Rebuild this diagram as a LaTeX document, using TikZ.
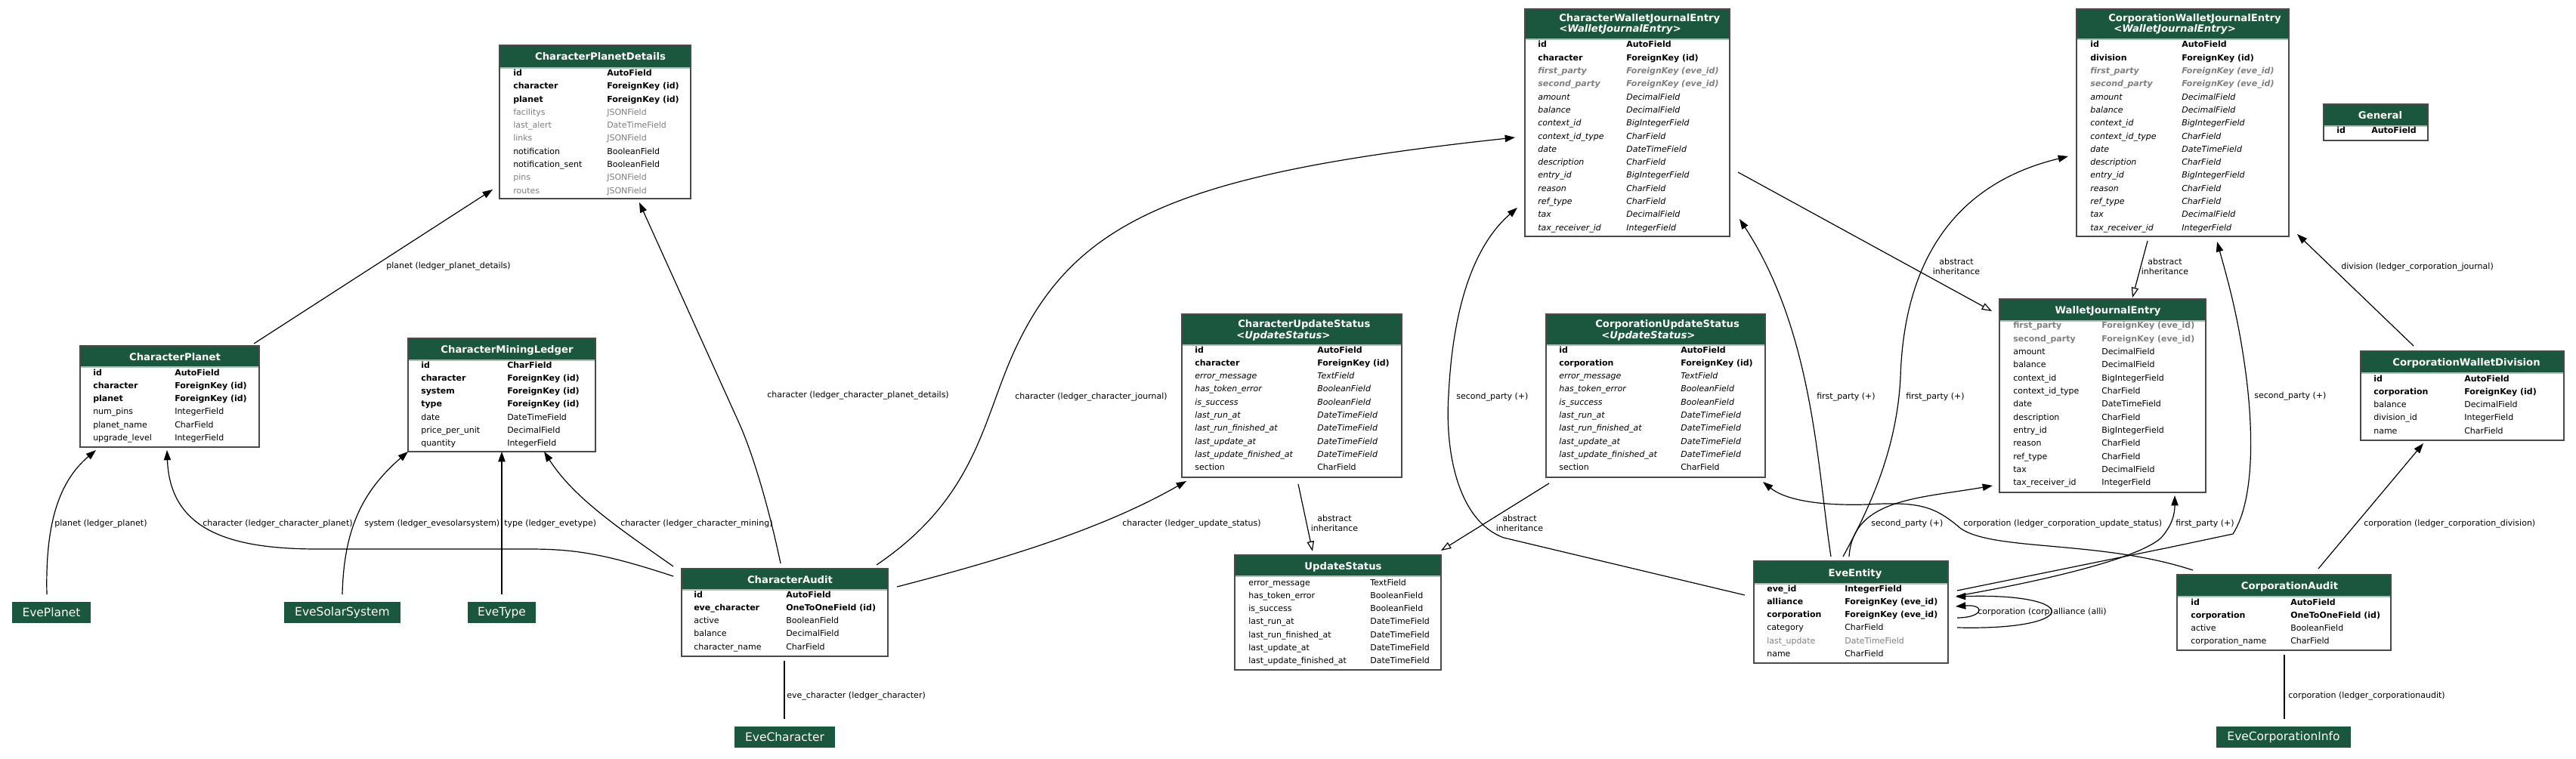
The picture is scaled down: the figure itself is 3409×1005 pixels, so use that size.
\documentclass[tikz,border=0pt]{standalone}
\usepackage{fontspec}
\setmainfont{DejaVu Sans}
\usetikzlibrary{arrows.meta,calc}
\definecolor{hdrgreen}{HTML}{1B563F}
\definecolor{fgray}{gray}{0.5}
\definecolor{hlinecol}{HTML}{A8C3B6}
\definecolor{bordercol}{HTML}{4A4A4A}
\tikzset{
  tblbox/.style={rectangle, fill=white, anchor=north west, inner sep=0pt, outer sep=0pt},
  tblborder/.style={draw=bordercol, line width=1.1pt},
  hdrtxt/.style={text=white, font=\fontsize{9.9}{10.5}\selectfont\bfseries, inner sep=0pt},
  fld/.style={inner sep=0pt, font=\fontsize{8.25}{10}\selectfont},
  fldN/.style={fld},
  fldB/.style={fld, font=\fontsize{8.25}{10}\selectfont\bfseries},
  fldI/.style={fld, font=\fontsize{8.25}{10}\selectfont\itshape},
  fldG/.style={fld, text=fgray},
  fldGB/.style={fldB, text=fgray},
  fldGBI/.style={fld, text=fgray, font=\fontsize{8.25}{10}\selectfont\bfseries\itshape},
  extbox/.style={rectangle, fill=hdrgreen, text=white, anchor=north west, inner sep=0pt, outer sep=0pt, font=\fontsize{11.6}{13}\selectfont},
  conn/.style={line width=0.9pt, draw=black},
  fk/.style={conn, -{Triangle[length=10pt,width=7pt]}},
  inh/.style={conn, -{Triangle[open,length=10pt,width=7pt]}},
  plain/.style={conn},
  elbl/.style={inner sep=0pt, font=\fontsize{8.25}{9.4}\selectfont, anchor=base west},
  ilbl/.style={inner sep=0pt, font=\fontsize{8.25}{9.4}\selectfont, align=center},
}
\newcommand\tbl[6]{%
  \node[tblbox, minimum width={#4*0.75pt}, minimum height={#5*0.75pt}] (#1) at (#2,#3) {};
  \fill[hdrgreen] (#1.north west) rectangle ($(#1.north east)+(0,#6)$);
  \draw[draw=hlinecol, line width=0.8pt] ($(#1.north west)+(1,#6)$) -- ($(#1.north east)+(-1,#6)$);
  \draw[tblborder] (#1.north west) rectangle (#1.south east);
}
\newcommand\fields[5]{%
  \foreach \st/\lf/\ft [count=\i] in {#5} {
    \node[\st, anchor=base west] (#1-l\i) at (#2, {#4+(\i-1)*17.3+4}) {\lf};
    \node[\st, anchor=base west] (#1-r\i) at (#3, {#4+(\i-1)*17.3+4}) {\ft};
  }%
}
\begin{document}
\begin{tikzpicture}[x=0.75pt,y=-0.75pt]
\useasboundingbox (0,0) rectangle (3409,1005);
\fill[white] (0,0) rectangle (3409,1005);

% ---------- tables ----------
\tbl{cpd}{661}{60}{253}{203}{30}
\node[hdrtxt, anchor=base] (cpd-h) at (794.5,80) {CharacterPlanetDetails};
\fields{cpd}{679}{803}{96.5}{fldB/id/AutoField, fldB/character/ForeignKey (id), fldB/planet/ForeignKey (id), fldG/facilitys/JSONField, fldG/last\_alert/DateTimeField, fldG/links/JSONField, fldN/notification/BooleanField, fldN/notification\_sent/BooleanField, fldG/pins/JSONField, fldG/routes/JSONField}

\tbl{cp}{106}{458}{237}{134}{28}
\node[hdrtxt, anchor=base] (cp-h) at (231.5,477) {CharacterPlanet};
\fields{cp}{123}{231}{493}{fldB/id/AutoField, fldB/character/ForeignKey (id), fldB/planet/ForeignKey (id), fldN/num\_pins/IntegerField, fldN/planet\_name/CharField, fldN/upgrade\_level/IntegerField}

\tbl{cml}{540}{448}{248}{150}{29}
\node[hdrtxt, anchor=base] (cml-h) at (671,467.5) {CharacterMiningLedger};
\fields{cml}{557}{671}{483}{fldB/id/CharField, fldB/character/ForeignKey (id), fldB/system/ForeignKey (id), fldB/type/ForeignKey (id), fldN/date/DateTimeField, fldN/price\_per\_unit/DecimalField, fldN/quantity/IntegerField}

\tbl{cwje}{2018}{12}{271}{301}{40}
\node[hdrtxt, anchor=base west] (cwje-h1) at (2063,29) {CharacterWalletJournalEntry};
\node[hdrtxt, anchor=base west] (cwje-h2) at (2063,43) {\itshape <WalletJournalEntry>};
\fields{cwje}{2035}{2152}{59}{fldB/id/AutoField, fldB/character/ForeignKey (id), fldGBI/first\_party/ForeignKey (eve\_id), fldGBI/second\_party/ForeignKey (eve\_id), fldI/amount/DecimalField, fldI/balance/DecimalField, fldI/context\_id/BigIntegerField, fldI/context\_id\_type/CharField, fldI/date/DateTimeField, fldI/description/CharField, fldI/entry\_id/BigIntegerField, fldI/reason/CharField, fldI/ref\_type/CharField, fldI/tax/DecimalField, fldI/tax\_receiver\_id/IntegerField}

\tbl{corpwje}{2748}{12}{281}{301}{40}
\node[hdrtxt, anchor=base west] (corpwje-h1) at (2790,29) {CorporationWalletJournalEntry};
\node[hdrtxt, anchor=base west] (corpwje-h2) at (2797,43) {\itshape <WalletJournalEntry>};
\fields{corpwje}{2766}{2887}{59}{fldB/id/AutoField, fldB/division/ForeignKey (id), fldGBI/first\_party/ForeignKey (eve\_id), fldGBI/second\_party/ForeignKey (eve\_id), fldI/amount/DecimalField, fldI/balance/DecimalField, fldI/context\_id/BigIntegerField, fldI/context\_id\_type/CharField, fldI/date/DateTimeField, fldI/description/CharField, fldI/entry\_id/BigIntegerField, fldI/reason/CharField, fldI/ref\_type/CharField, fldI/tax/DecimalField, fldI/tax\_receiver\_id/IntegerField}

\tbl{cus}{1564}{416}{291}{216}{41}
\node[hdrtxt, anchor=base west] (cus-h1) at (1638,434) {CharacterUpdateStatus};
\node[hdrtxt, anchor=base west] (cus-h2) at (1636,448) {\itshape <UpdateStatus>};
\fields{cus}{1581}{1743}{463}{fldB/id/AutoField, fldB/character/ForeignKey (id), fldI/error\_message/TextField, fldI/has\_token\_error/BooleanField, fldI/is\_success/BooleanField, fldI/last\_run\_at/DateTimeField, fldI/last\_run\_finished\_at/DateTimeField, fldI/last\_update\_at/DateTimeField, fldI/last\_update\_finished\_at/DateTimeField, fldN/section/CharField}

\tbl{corpus}{2046}{416}{290}{216}{41}
\node[hdrtxt, anchor=base west] (corpus-h1) at (2111,434) {CorporationUpdateStatus};
\node[hdrtxt, anchor=base west] (corpus-h2) at (2119,448) {\itshape <UpdateStatus>};
\fields{corpus}{2063}{2224}{463}{fldB/id/AutoField, fldB/corporation/ForeignKey (id), fldI/error\_message/TextField, fldI/has\_token\_error/BooleanField, fldI/is\_success/BooleanField, fldI/last\_run\_at/DateTimeField, fldI/last\_run\_finished\_at/DateTimeField, fldI/last\_update\_at/DateTimeField, fldI/last\_update\_finished\_at/DateTimeField, fldN/section/CharField}

\tbl{us}{1634}{735}{273}{152}{28}
\node[hdrtxt, anchor=base] (us-h) at (1777.5,754) {UpdateStatus};
\fields{us}{1652}{1813}{771}{fldN/error\_message/TextField, fldN/has\_token\_error/BooleanField, fldN/is\_success/BooleanField, fldN/last\_run\_at/DateTimeField, fldN/last\_run\_finished\_at/DateTimeField, fldN/last\_update\_at/DateTimeField, fldN/last\_update\_finished\_at/DateTimeField}

\tbl{ca}{902}{753}{273}{116}{28}
\node[hdrtxt, anchor=base] (ca-h) at (1045.5,772) {CharacterAudit};
\fields{ca}{918}{1040}{787}{fldB/id/AutoField, fldB/eve\_character/OneToOneField (id), fldN/active/BooleanField, fldN/balance/DecimalField, fldN/character\_name/CharField}

\tbl{ee}{2321}{743}{257}{135}{30}
\node[hdrtxt, anchor=base] (ee-h) at (2455,763) {EveEntity};
\fields{ee}{2338}{2441}{779}{fldB/eve\_id/IntegerField, fldB/alliance/ForeignKey (eve\_id), fldB/corporation/ForeignKey (eve\_id), fldN/category/CharField, fldG/last\_update/DateTimeField, fldN/name/CharField}

\tbl{wje}{2646}{396}{273}{256}{29}
\node[hdrtxt, anchor=base] (wje-h) at (2789.5,415.5) {WalletJournalEntry};
\fields{wje}{2664}{2781}{431}{fldGB/first\_party/ForeignKey (eve\_id), fldGB/second\_party/ForeignKey (eve\_id), fldN/amount/DecimalField, fldN/balance/DecimalField, fldN/context\_id/BigIntegerField, fldN/context\_id\_type/CharField, fldN/date/DateTimeField, fldN/description/CharField, fldN/entry\_id/BigIntegerField, fldN/reason/CharField, fldN/ref\_type/CharField, fldN/tax/DecimalField, fldN/tax\_receiver\_id/IntegerField}

\tbl{gen}{3075}{138}{138}{48}{29}
\node[hdrtxt, anchor=base] (gen-h) at (3150,157.5) {General};
\fields{gen}{3092}{3138}{173}{fldB/id/AutoField}

\tbl{cwd}{3124}{465}{269}{118}{29}
\node[hdrtxt, anchor=base] (cwd-h) at (3264,484.5) {CorporationWalletDivision};
\fields{cwd}{3141}{3261}{501}{fldB/id/AutoField, fldB/corporation/ForeignKey (id), fldN/balance/DecimalField, fldN/division\_id/IntegerField, fldN/name/CharField}

\tbl{corpa}{2881}{761}{283}{100}{29}
\node[hdrtxt, anchor=base] (corpa-h) at (3030,780.5) {CorporationAudit};
\fields{corpa}{2899}{3031}{797}{fldB/id/AutoField, fldB/corporation/OneToOneField (id), fldN/active/BooleanField, fldN/corporation\_name/CharField}

% ---------- external models ----------
\node[extbox, minimum width={104*0.75pt}, minimum height={28*0.75pt}] (eveplanet) at (16,797) {EvePlanet};
\node[extbox, minimum width={154*0.75pt}, minimum height={28*0.75pt}] (evess) at (376,797) {EveSolarSystem};
\node[extbox, minimum width={90*0.75pt}, minimum height={28*0.75pt}] (evetype) at (619,797) {EveType};
\node[extbox, minimum width={133*0.75pt}, minimum height={28*0.75pt}] (evechar) at (972,962) {EveCharacter};
\node[extbox, minimum width={178*0.75pt}, minimum height={28*0.75pt}] (evecorp) at (2933,962) {EveCorporationInfo};

% ---------- connectors ----------
\draw[fk] ($(cp.north west)+(230,-3)$) -- ($(cpd.north west)+(-9,191)$);
\draw[fk] ($(eveplanet.north west)+(46,-10)$) .. controls (60,700) and (75,640) .. ($(cp.north west)+(21,138)$);
\draw[fk] ($(ca.north west)+(-11,10)$) .. controls (800,733) and (760,727) .. (700,727) -- (420,727) .. controls (300,727) and (225,700) .. ($(cp.north west)+(115,138)$);
\draw[fk] ($(evess.north west)+(77,-10)$) .. controls (455,700) and (480,650) .. ($(cml.north west)+(0,150)$);
\draw[fk] ($(evetype.north west)+(45,-10)$) -- ($(cml.north west)+(124,150)$);
\draw[fk] ($(ca.north west)+(-11,-3)$) .. controls (820,700) and (760,660) .. ($(cml.north west)+(180,150)$);
\draw[fk] ($(ca.north west)+(131,-7)$) .. controls (1017,670) and (996,600) .. (978,560) -- ($(cpd.north west)+(185,208)$);
\draw[fk] ($(ca.north west)+(285,24)$) .. controls (1330,740) and (1460,700) .. ($(cus.north west)+(6,221)$);
\draw[fk] ($(ca.north west)+(258,-5)$) .. controls (1290,660) and (1300,560) .. (1340,470) .. controls (1420,290) and (1560,230) .. ($(cwje.north west)+(-13,170)$);
\draw[plain] ($(ca.north west)+(136,122)$) -- ($(evechar.north west)+(66,-10)$);
\draw[inh] ($(cus.north west)+(154,225)$) -- ($(us.north west)+(103,-5)$);
\draw[inh] ($(corpus.north west)+(4,224)$) -- ($(us.north west)+(273,-6)$);
\draw[inh] ($(cwje.north west)+(282,216)$) -- ($(wje.north west)+(-10,16)$);
\draw[inh] ($(corpwje.north west)+(94,307)$) -- ($(wje.north west)+(176,-2)$);
\draw[fk] ($(ee.north west)+(-12,45)$) -- (1990,712) .. controls (1930,690) and (1912,600) .. (1917,523) .. controls (1922,420) and (1945,330) .. ($(cwje.north west)+(-10,263)$);
\draw[fk] ($(ee.north west)+(102,-6)$) .. controls (2405,620) and (2400,440) .. ($(cwje.north west)+(284,278)$);
\draw[fk] ($(ee.north west)+(118,-6)$) .. controls (2470,680) and (2510,600) .. (2515,500) .. controls (2520,330) and (2600,240) .. ($(corpwje.north west)+(-11,195)$);
\draw[fk] ($(ee.north west)+(126,-6)$) .. controls (2452,660) and (2540,660) .. ($(wje.north west)+(-9,247)$);
\draw[fk] ($(corpa.north west)+(21,-6)$) .. controls (2780,715) and (2640,730) .. (2595,700) .. controls (2560,670) and (2540,664) .. (2470,668) .. controls (2400,670) and (2360,660) .. ($(corpus.north west)+(287,222)$);
\draw[fk] ($(ee.north west)+(269,46)$) .. controls (2700,770) and (2830,740) .. (2860,712) .. controls (2875,695) and (2878,680) .. ($(wje.north west)+(232,260)$);
\draw[fk] ($(ee.north west)+(269,39)$) -- (2870,725) -- (2955,707) .. controls (2985,660) and (2982,560) .. (2970,480) .. controls (2960,410) and (2945,360) .. ($(corpwje.north west)+(186,308)$);
\draw[fk] ($(ee.north west)+(269,75)$) .. controls (2625,818) and (2628,800) .. ($(ee.north west)+(267,60)$);
\draw[fk] ($(ee.north west)+(269,88)$) .. controls (2755,835) and (2755,785) .. ($(ee.north west)+(267,47)$);
\draw[fk] ($(corpa.north west)+(187,-8)$) -- ($(cwd.north west)+(83,122)$);
\draw[fk] ($(cwd.north west)+(70,-7)$) -- ($(corpwje.north west)+(292,298)$);
\draw[plain] ($(corpa.north west)+(142,106)$) -- ($(evecorp.north west)+(90,-10)$);

% ---------- connector labels ----------
\node[elbl] (l1) at (511,356) {planet (ledger\_planet\_details)};
\node[elbl] (l2) at (72,696) {planet (ledger\_planet)};
\node[elbl] (l3) at (268,696) {character (ledger\_character\_planet)};
\node[elbl] (l4) at (482,696) {system (ledger\_evesolarsystem)};
\node[elbl] (l5) at (667,696) {type (ledger\_evetype)};
\node[elbl] (l6) at (821,696) {character (ledger\_character\_mining)};
\node[elbl] (l7) at (1015,526) {character (ledger\_character\_planet\_details)};
\node[elbl] (l8) at (1485,696) {character (ledger\_update\_status)};
\node[elbl] (l9) at (1343,528) {character (ledger\_character\_journal)};
\node[elbl] (l10) at (1041,924) {eve\_character (ledger\_character)};
\node[ilbl] (l11) at (1766,693) {abstract\\inheritance};
\node[ilbl] (l12) at (2011,693) {abstract\\inheritance};
\node[ilbl] (l13) at (2589,353) {abstract\\inheritance};
\node[ilbl] (l14) at (2865,353) {abstract\\inheritance};
\node[elbl] (l15) at (1927,528) {second\_party (+)};
\node[elbl] (l16) at (2404,528) {first\_party (+)};
\node[elbl] (l17) at (2522,528) {first\_party (+)};
\node[elbl] (l18) at (2476,696) {second\_party (+)};
\node[elbl] (l19) at (2598,696) {corporation (ledger\_corporation\_update\_status)};
\node[elbl] (l20) at (2879,696) {first\_party (+)};
\node[elbl] (l21) at (2983,527) {second\_party (+)};
\node[elbl] (l22) at (2617,813) {corporation (corp)};
\node[elbl] (l23) at (2717,813) {alliance (alli)};
\node[elbl] (l24) at (3128,696) {corporation (ledger\_corporation\_division)};
\node[elbl] (l25) at (3098,357) {division (ledger\_corporation\_journal)};
\node[elbl] (l26) at (3028,924) {corporation (ledger\_corporationaudit)};
\end{tikzpicture}
\end{document}
